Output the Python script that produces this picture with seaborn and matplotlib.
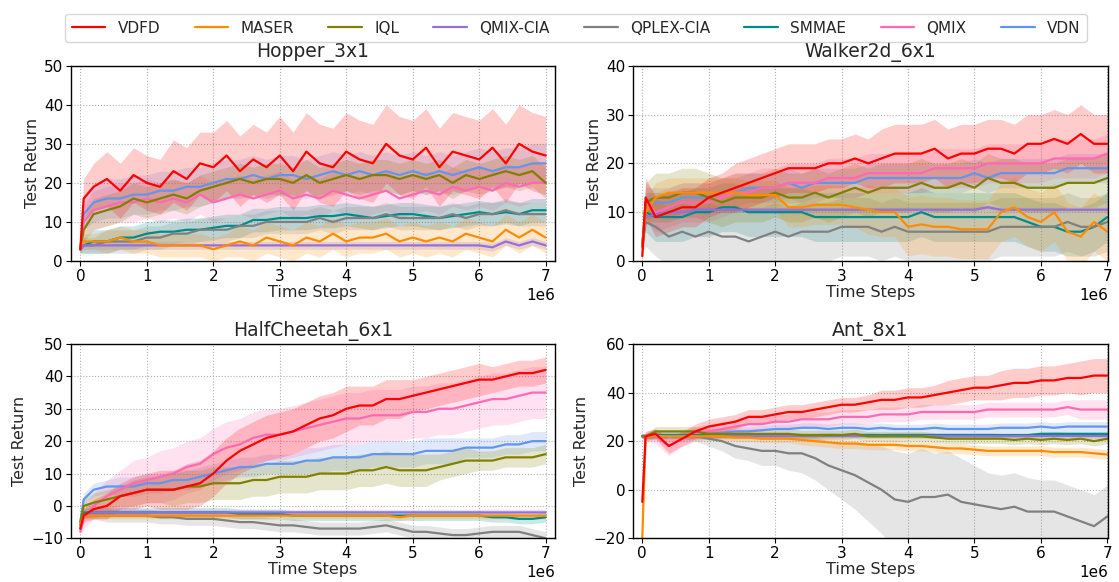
import numpy as np
import pandas as pd
import matplotlib
matplotlib.use("Agg")
import matplotlib.pyplot as plt
from matplotlib.lines import Line2D
import seaborn as sns

# ---------------- data (x in millions of steps) ----------------
steps_m = [0, 0.05, 0.2, 0.4, 0.6, 0.8, 1.0, 1.2, 1.4, 1.6, 1.8, 2.0, 2.2, 2.4, 2.6, 2.8,
           3.0, 3.2, 3.4, 3.6, 3.8, 4.0, 4.2, 4.4, 4.6, 4.8, 5.0, 5.2, 5.4, 5.6, 5.8,
           6.0, 6.2, 6.4, 6.6, 6.8, 7.0]

methods = ["VDFD", "MASER", "IQL", "QMIX-CIA", "QPLEX-CIA", "SMMAE", "QMIX", "VDN"]
colors = ["#ff0000", "#ff8c00", "#808000", "#9370db", "#808080", "#008b8b", "#ff69b4", "#6495ed"]
titles = ["Hopper_3x1", "Walker2d_6x1", "HalfCheetah_6x1", "Ant_8x1"]

# Hopper_3x1
hop_vdfd = [3, 16, 19, 21, 18, 22, 20, 19, 23, 21, 25, 24, 27, 23, 26, 24, 27, 23, 28, 25, 24, 28, 26, 25, 30, 27, 26, 29, 24, 28, 27, 26, 29, 25, 30, 28, 27]
hop_vdfd_sd = [1, 5, 6, 7, 7, 7, 7, 7, 8, 8, 8, 9, 9, 9, 9, 9, 10, 10, 10, 10, 10, 10, 10, 10, 10, 10, 10, 10, 10, 10, 10, 10, 10, 10, 10, 10, 10]
hop_maser = [4, 5, 5, 5, 6, 5, 5, 4, 4, 4, 4, 3, 4, 5, 4, 6, 5, 4, 6, 5, 7, 5, 6, 6, 7, 5, 6, 5, 6, 5, 7, 6, 5, 8, 6, 8, 6]
hop_maser_sd = [1, 2, 2, 3, 3, 3, 3, 3, 3, 3, 3, 3, 3, 4, 4, 4, 4, 4, 4, 4, 4, 4, 4, 4, 4, 4, 4, 4, 4, 4, 4, 4, 4, 4, 4, 4, 4]
hop_iql = [3, 8, 12, 13, 14, 16, 15, 16, 17, 16, 18, 19, 20, 21, 20, 21, 21, 20, 22, 20, 21, 22, 21, 22, 22, 21, 22, 21, 22, 20, 22, 21, 22, 23, 22, 23, 20]
hop_iql_sd = [1, 3, 4, 4, 4, 4, 4, 4, 4, 4, 4, 4, 4, 4, 4, 4, 4, 4, 4, 4, 4, 4, 4, 4, 4, 4, 4, 4, 4, 4, 4, 4, 4, 4, 4, 4, 4]
hop_qmixcia = [3, 4, 4, 4, 4, 4, 4, 4, 4, 4, 4, 4, 4, 4, 4, 4, 4, 4, 4, 4, 4, 4, 4, 4, 4, 4, 4, 4, 4, 4, 4, 4, 3.5, 5, 4, 5, 4]
hop_qmixcia_sd = [1] * 37
hop_qplex = [3, 4, 4, 5, 5, 5, 6, 6, 7, 7, 8, 8, 8, 9, 9, 10, 10, 10, 10, 11, 10, 11, 11, 11, 12, 11, 11, 11, 11, 12, 11, 12, 12, 13, 12, 12, 12]
hop_qplex_sd = [1, 2, 2, 3, 3, 3, 3, 3, 3, 3, 3, 3, 3, 3, 3, 3, 3, 3, 3, 3, 3, 3, 3, 3, 3, 3, 3, 3, 3, 3, 3, 3, 3, 3, 3, 3, 3]
hop_smmae = [3, 4, 5, 5, 6, 6, 7, 7.5, 7.5, 8, 8, 8.5, 9, 9, 10.5, 10.5, 11, 11, 11, 11.5, 11.5, 12, 11.5, 11, 11.5, 12, 12, 11.5, 11, 11.5, 12, 12.5, 12, 12.5, 12, 13, 13]
hop_smmae_sd = [1, 2, 3, 3, 3, 3, 3, 3, 3, 3, 3, 3, 3, 3, 3, 3, 3, 3, 3, 3, 3, 3, 3, 3, 3, 3, 3, 3, 3, 3, 3, 3, 3, 3, 3, 3, 3]
hop_qmix = [3, 10, 13, 14, 15, 15, 16, 15, 16, 15, 17, 15, 16, 17, 16, 17, 18, 16, 17, 16, 18, 17, 16, 17, 18, 16, 17, 18, 17, 19, 18, 19, 18, 20, 19, 20, 20]
hop_qmix_sd = [1, 4, 5, 5, 5, 5, 5, 5, 5, 5, 5, 5, 5, 5, 5, 5, 5, 5, 5, 5, 5, 5, 5, 5, 5, 5, 5, 5, 5, 5, 5, 5, 5, 5, 5, 5, 5]
hop_vdn = [3, 12, 15, 16, 16, 17, 17, 18, 18, 19, 19, 20, 21, 21, 22, 21, 22, 22, 21, 22, 23, 22, 23, 22, 23, 22, 23, 22, 23, 22, 23, 24, 23, 24, 24, 25, 25]
hop_vdn_sd = [1, 4, 5, 5, 5, 5, 5, 5, 5, 5, 5, 5, 5, 5, 5, 5, 5, 5, 5, 5, 5, 5, 5, 5, 5, 5, 5, 5, 5, 5, 5, 5, 5, 5, 5, 5, 5]

# Walker2d_6x1
wlk_vdfd = [1, 13, 9, 10, 11, 11, 13, 14, 15, 16, 17, 18, 19, 19, 19, 20, 20, 21, 20, 21, 22, 22, 22, 23, 21, 22, 22, 23, 23, 22, 24, 24, 25, 24, 26, 24, 24]
wlk_vdfd_sd = [1, 4, 4, 4, 4, 4, 4, 4, 5, 5, 5, 5, 5, 5, 5, 5, 5, 5, 5, 6, 6, 6, 6, 6, 6, 6, 6, 6, 6, 6, 6, 6, 6, 6, 6, 6, 6]
wlk_maser = [3, 10, 13, 14, 14, 14, 14, 14, 14, 13.5, 13.5, 13.5, 11, 11, 11.5, 11.5, 11.5, 11, 10.5, 10, 10, 7, 7.5, 7, 7, 6.5, 6.5, 6.5, 10, 11, 9, 8, 10, 6, 5, 8, 6]
wlk_maser_sd = [1, 3, 3, 3, 3, 3, 3, 3, 3, 3, 3, 3, 4, 4, 4, 4, 4, 4, 5, 5, 5, 6, 6, 6, 6, 6, 6, 6, 6, 6, 6, 6, 6, 6, 6, 6, 6]
wlk_iql = [3, 12, 13, 13, 14, 14, 13, 12, 13, 13, 13, 14, 13, 13, 14, 13, 14, 15, 14, 15, 15, 15, 16, 15, 15, 16, 15, 17, 16, 16, 15, 15, 15, 16, 16, 16, 17]
wlk_iql_sd = [1, 4, 5, 5, 5, 5, 5, 5, 5, 5, 5, 5, 5, 5, 5, 5, 5, 5, 5, 5, 5, 5, 5, 5, 5, 5, 5, 5, 5, 5, 5, 5, 5, 5, 5, 5, 5]
wlk_qmixcia = [3, 9, 9.5, 10, 10, 10.5, 10.5, 10.5, 10.5, 10.5, 10.5, 10.5, 10.5, 10.5, 10.5, 10.5, 10.5, 10.5, 10.5, 10.5, 10.5, 10.5, 10.5, 10.5, 10.5, 10.5, 10.5, 11, 10.5, 10.5, 10.5, 10.5, 10.5, 10.5, 10.5, 10.5, 10.5]
wlk_qmixcia_sd = [0.5] * 37
wlk_qplex = [3, 8, 7, 5, 6, 5, 6, 5, 5, 4, 5, 6, 5, 6, 6, 6, 7, 7, 7, 6, 7, 6, 6, 6, 6, 6, 6, 6, 7, 7, 7, 7, 7, 8, 7, 7, 8]
wlk_qplex_sd = [1, 5, 6, 6, 6, 6, 6, 6, 6, 6, 6, 6, 6, 6, 6, 6, 6, 6, 6, 6, 6, 6, 6, 6, 6, 6, 6, 6, 6, 6, 6, 6, 6, 6, 6, 6, 6]
wlk_smmae = [3, 10, 9, 9, 9, 10, 10, 11, 11, 10, 10, 10, 10, 10, 9, 9, 9, 9, 9, 9, 9, 9, 10, 9, 9, 9, 9, 9, 9, 9, 8, 7, 7, 6, 6, 7, 9]
wlk_smmae_sd = [1, 4, 5, 5, 5, 5, 5, 5, 5, 5, 5, 5, 5, 5, 5, 5, 5, 5, 5, 5, 5, 5, 5, 5, 5, 5, 5, 5, 5, 5, 5, 5, 5, 5, 5, 5, 5]
wlk_qmix = [3, 12, 10, 11, 12, 12, 12, 13, 14, 14, 15, 15, 16, 16, 16, 17, 17, 17, 18, 18, 18, 18, 18, 19, 19, 19, 19, 20, 20, 20, 20, 20, 21, 21, 21, 21, 22]
wlk_qmix_sd = [1, 4, 4, 4, 4, 4, 4, 4, 4, 4, 4, 4, 4, 4, 4, 4, 4, 4, 4, 4, 4, 4, 4, 4, 4, 4, 4, 4, 4, 4, 4, 4, 4, 4, 4, 4, 4]
wlk_vdn = [3, 12, 12, 12, 13, 13, 13, 14, 14, 15, 15, 15, 16, 15, 16, 16, 16, 16, 17, 17, 17, 17, 17, 17, 17, 17, 18, 17, 18, 18, 18, 18, 18, 19, 19, 19, 19]
wlk_vdn_sd = [1, 3, 3, 3, 3, 3, 3, 3, 3, 3, 3, 3, 3, 3, 3, 3, 3, 3, 3, 3, 3, 3, 3, 3, 3, 3, 3, 3, 3, 3, 3, 3, 3, 3, 3, 3, 3]

# HalfCheetah_6x1
hc_vdfd = [-7, -3, -1, 0, 3, 4, 5, 5, 5, 6, 7, 10, 14, 17, 19, 21, 22, 23, 25, 27, 28, 30, 31, 31, 33, 33, 34, 35, 36, 37, 38, 39, 39, 40, 41, 41, 42]
hc_vdfd_sd = [1, 2, 3, 4, 4, 5, 5, 6, 6, 7, 7, 7, 7, 7, 7, 7, 7, 7, 7, 7, 7, 7, 6, 6, 6, 6, 5, 5, 5, 5, 5, 5, 4, 4, 4, 4, 4]
hc_maser = [-6, -3, -3, -3, -3, -3, -3, -3, -3, -3, -3, -3, -3, -3, -3, -3, -3, -3, -3, -3, -3, -3, -3, -3, -3, -3.5, -3, -3, -3, -3, -3, -3, -3, -3, -3, -3, -3]
hc_maser_sd = [1] * 37
hc_iql = [-5, 0, 1, 2, 3, 4, 5, 5, 5, 6, 6, 7, 7, 7, 8, 8, 9, 9, 9, 10, 10, 10, 11, 11, 12, 11, 11, 11, 12, 13, 14, 14, 14, 15, 15, 15, 16]
hc_iql_sd = [1, 2, 3, 3, 3, 4, 4, 4, 5, 5, 5, 5, 5, 5, 5, 5, 5, 5, 5, 5, 5, 5, 5, 5, 5, 5, 5, 5, 4, 4, 4, 3, 3, 3, 3, 3, 3]
hc_qmixcia = [-7, -3, -2, -2, -2, -2, -2, -2, -2, -2, -2, -2, -2, -2, -2, -2, -2, -2, -2, -2, -2, -2, -2, -2, -2, -2, -2, -2, -2, -2, -2, -2, -2, -2, -2, -2, -2]
hc_qmixcia_sd = [1] * 37
hc_qplex = [-6, -3, -3, -3, -3, -3, -3, -3.5, -3.5, -4, -4, -4, -4.5, -5, -5, -5.5, -6, -6, -6.5, -7, -7, -7, -7, -6.5, -6, -7, -8, -8, -8.5, -9, -9, -8.5, -8, -8, -8, -9, -10]
hc_qplex_sd = [1, 1, 1, 2, 2, 2, 2, 2, 2, 2, 2, 2, 2, 2, 2, 2, 2, 2, 2, 2, 2, 2, 2, 2, 2, 2, 2, 2, 2, 2, 2, 2, 2, 2, 2, 2, 2]
hc_smmae = [-6, -2, -2, -2, -2, -2, -2, -2, -2, -2, -2, -2, -2, -2.5, -2.5, -2.5, -2.5, -3, -3, -3, -3, -3, -3, -3, -3, -3, -3, -3, -3, -3, -3, -3, -3.5, -3.5, -4, -4, -3.5]
hc_smmae_sd = [1.5] * 37
hc_qmix = [-8, -4, 0, 3, 5, 7, 8, 9, 10, 12, 13, 16, 18, 19, 21, 22, 22, 23, 24, 25, 26, 27, 27, 28, 28, 28, 29, 29, 30, 30, 31, 32, 33, 33, 34, 35, 35]
hc_qmix_sd = [1, 3, 4, 5, 6, 7, 7, 8, 8, 8, 8, 8, 8, 8, 8, 8, 8, 8, 8, 8, 8, 8, 8, 8, 8, 8, 8, 8, 8, 8, 8, 8, 8, 8, 8, 8, 8]
hc_vdn = [-5, 2, 5, 6, 6, 6, 7, 7, 8, 8, 9, 10, 11, 12, 12, 13, 13, 13, 14, 14, 15, 15, 15, 16, 16, 16, 16, 17, 17, 17, 18, 18, 18, 19, 19, 20, 20]
hc_vdn_sd = [1, 2, 2, 2, 3, 3, 3, 3, 3, 3, 3, 3, 3, 3, 3, 3, 3, 3, 4, 4, 4, 4, 4, 4, 4, 4, 4, 4, 4, 4, 3, 3, 3, 3, 3, 3, 3]

# Ant_8x1
ant_vdfd = [-5, 22, 23, 18, 21, 24, 26, 27, 28, 30, 30, 31, 32, 32, 33, 34, 35, 35, 36, 37, 37, 38, 38, 39, 40, 41, 42, 42, 43, 44, 44, 45, 45, 46, 46, 47, 47]
ant_vdfd_sd = [1, 2, 2, 3, 3, 3, 3, 3, 3, 3, 3, 3, 3, 3, 3, 3, 3, 3, 3, 4, 4, 4, 4, 4, 5, 5, 5, 5, 6, 6, 6, 6, 6, 6, 7, 7, 7]
ant_maser = [-20, 22, 22, 22, 22, 22, 22, 22, 21.5, 21.5, 21, 21, 21, 20.5, 20, 19.5, 19, 19, 18.5, 18.5, 18.5, 18, 18, 17.5, 17, 17, 16.5, 16, 16, 16, 16, 16, 15.5, 15.5, 15.5, 15, 14.5]
ant_maser_sd = [0, 1, 1, 1, 1, 1.5, 1.5, 1.5, 1.5, 1.5, 1.5, 1.5, 1.5, 2, 2, 2, 2, 2, 2, 2, 2, 2, 2, 2, 2, 2, 2, 2, 2, 2, 2, 2, 2, 2, 2, 2, 2]
ant_iql = [22, 22, 24, 24, 24, 24, 23, 23, 23, 23, 23, 23, 23, 22.5, 22.5, 22.5, 22.5, 23, 22, 22, 22, 22, 22, 21.5, 21, 21, 21, 21, 21, 20.5, 21, 20.5, 21, 20.5, 21, 20, 21]
ant_iql_sd = [0, 1, 2, 2, 2, 2, 2, 2, 2, 2, 2, 2, 2, 2, 2, 2, 2, 2, 2, 2, 2, 2, 2, 2, 2, 2, 2, 2, 2, 2, 2, 2, 2, 2, 2, 2, 2]
ant_qmixcia = [22] * 37
ant_qmixcia_sd = [1] * 37
ant_qplex = [22, 22, 22, 22, 22, 22, 21, 20, 18, 17, 16, 16, 15, 15, 13, 10, 8, 6, 3, 0, -4, -5, -3, -3, -2, -5, -6, -7, -8, -7, -9, -9, -9, -11, -13, -15, -11]
ant_qplex_sd = [1, 1, 1, 1, 1, 2, 3, 4, 5, 5, 6, 6, 7, 8, 9, 10, 12, 14, 16, 18, 20, 20, 20, 18, 18, 18, 16, 14, 14, 14, 14, 13, 13, 13, 13, 13, 13]
ant_smmae = [22, 22, 22.5, 22.5, 22.5, 22.5, 22.5, 22.5, 22.5, 22.5, 22.5, 22.5, 22.5, 22.5, 22.5, 22.5, 22.5, 22.5, 22.5, 22.5, 22.5, 22.5, 22.5, 22.5, 22.5, 22.5, 22.5, 22.5, 22.5, 22.5, 22.5, 23, 23, 23, 23, 23, 23]
ant_smmae_sd = [1] * 37
ant_qmix = [22, 22, 22, 18, 21, 23, 24, 25, 26, 27, 27, 28, 28, 29, 29, 29, 30, 30, 30, 31, 31, 31, 32, 32, 32, 32, 32, 33, 33, 33, 33, 33, 33, 34, 33, 33, 33]
ant_qmix_sd = [1, 2, 3, 4, 3, 3, 3, 3, 3, 3, 3, 3, 3, 3, 3, 3, 3, 3, 3, 3, 3, 3, 3, 3, 3, 3, 3, 3, 3, 3, 3, 3, 3, 3, 4, 4, 4]
ant_vdn = [22, 22, 22, 22, 22, 23, 23, 23.5, 24, 24, 24.5, 25, 25, 25.5, 25.5, 25, 25.5, 25.5, 25, 25.5, 25, 25, 25, 25.5, 25, 25, 25, 25, 25.5, 25.5, 25.5, 26, 25.5, 26, 26, 26, 26]
ant_vdn_sd = [1, 1, 2, 2, 2, 2, 2, 2, 2, 2, 2, 2, 2, 2, 2, 2, 2, 2, 2, 2, 2, 2, 2, 2, 2, 2, 2, 2, 2, 2, 2, 2, 2, 2, 2, 2, 2]

env_means = [
    [hop_vdfd, hop_maser, hop_iql, hop_qmixcia, hop_qplex, hop_smmae, hop_qmix, hop_vdn],
    [wlk_vdfd, wlk_maser, wlk_iql, wlk_qmixcia, wlk_qplex, wlk_smmae, wlk_qmix, wlk_vdn],
    [hc_vdfd, hc_maser, hc_iql, hc_qmixcia, hc_qplex, hc_smmae, hc_qmix, hc_vdn],
    [ant_vdfd, ant_maser, ant_iql, ant_qmixcia, ant_qplex, ant_smmae, ant_qmix, ant_vdn],
]
env_sds = [
    [hop_vdfd_sd, hop_maser_sd, hop_iql_sd, hop_qmixcia_sd, hop_qplex_sd, hop_smmae_sd, hop_qmix_sd, hop_vdn_sd],
    [wlk_vdfd_sd, wlk_maser_sd, wlk_iql_sd, wlk_qmixcia_sd, wlk_qplex_sd, wlk_smmae_sd, wlk_qmix_sd, wlk_vdn_sd],
    [hc_vdfd_sd, hc_maser_sd, hc_iql_sd, hc_qmixcia_sd, hc_qplex_sd, hc_smmae_sd, hc_qmix_sd, hc_vdn_sd],
    [ant_vdfd_sd, ant_maser_sd, ant_iql_sd, ant_qmixcia_sd, ant_qplex_sd, ant_smmae_sd, ant_qmix_sd, ant_vdn_sd],
]
ylims = [(0, 50), (0, 40), (-10, 50), (-20, 60)]

# ---------------- plotting ----------------
sns.set_theme(style="ticks")
plt.rcParams["font.family"] = ["DejaVu Sans"]
plt.rcParams["axes.edgecolor"] = "black"
plt.rcParams["xtick.color"] = "black"
plt.rcParams["ytick.color"] = "black"

fig = plt.figure(figsize=(11.19, 5.82), dpi=100)
W, H = 1119.0, 582.0
positions = [
    [70.7 / W, 1 - 261 / H, 484.3 / W, 195.3 / H],
    [633 / W, 1 - 261 / H, 475 / W, 195.3 / H],
    [70.7 / W, 1 - 538.3 / H, 484.3 / W, 194.3 / H],
    [633 / W, 1 - 538.3 / H, 475 / W, 194.3 / H],
]
xlims_m = [(-0.145, 7.14), (-0.14, 7.01), (-0.145, 7.14), (-0.14, 7.01)]

steps = np.array(steps_m) * 1e6
for k in range(4):
    ax = fig.add_axes(positions[k])
    rows = []
    for m, name in enumerate(methods):
        for s, v in zip(steps, env_means[k][m]):
            rows.append((s, v, name))
    df = pd.DataFrame(rows, columns=["step", "ret", "method"])
    # draw in reverse legend order so VDFD ends on top
    for m in reversed(range(len(methods))):
        mean = np.array(env_means[k][m], dtype=float)
        sd = np.array(env_sds[k][m], dtype=float)
        ax.fill_between(steps, mean - sd, mean + sd, color=colors[m], alpha=0.2, lw=0)
    for m in reversed(range(len(methods))):
        sub = df[df["method"] == methods[m]]
        sns.lineplot(data=sub, x="step", y="ret", color=colors[m], lw=1.6, ax=ax,
                     errorbar=None, legend=False)
    ax.set_xlim(xlims_m[k][0] * 1e6, xlims_m[k][1] * 1e6)
    ax.set_ylim(*ylims[k])
    ax.set_title(titles[k], fontsize=13.5, pad=6)
    ax.set_xlabel("Time Steps", fontsize=11.5, labelpad=1)
    ax.set_ylabel("Test Return", fontsize=11.5, labelpad=3)
    ax.tick_params(labelsize=11, length=3.5, width=0.8, pad=2)
    ax.xaxis.get_offset_text().set_fontsize(11)
    ax.grid(True, linestyle=":", color="#b0b0b0", linewidth=0.8)
    ax.set_axisbelow(True)
    for sp in ax.spines.values():
        sp.set_linewidth(1.0)
        sp.set_color("black")

handles = [Line2D([0], [0], color=c, lw=1.6) for c in colors]
fig.legend(handles, methods, loc="upper center", bbox_to_anchor=(576 / W, 1 - 6 / H),
           ncol=8, fontsize=11, frameon=True, fancybox=True, edgecolor="#cccccc",
           columnspacing=2.25, handlelength=2.2, borderpad=0.45)

fig.savefig("out.png", dpi=100)
